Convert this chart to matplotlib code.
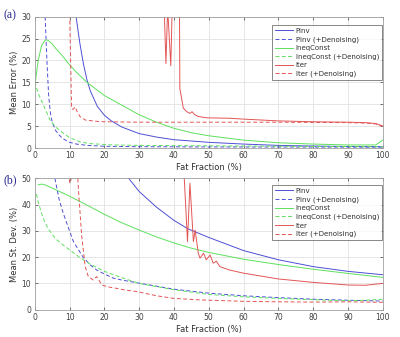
import numpy as np
import matplotlib
matplotlib.use('Agg')
import matplotlib.pyplot as plt

# 颜色
c_blue = '#4f4fd6'
c_green = '#5ee05e'
c_red = '#e35555'

# ---- (a) Mean Error ----
a_pinv_x = [11.9, 12.5, 13, 14, 15, 16, 18, 20, 22, 25, 30, 35, 40, 50, 60, 70, 80, 90, 100]
a_pinv_y = [30, 26.5, 23.8, 19.2, 15.6, 13, 9.5, 7.5, 6.2, 4.8, 3.3, 2.5, 1.9, 1.3, 0.9, 0.6, 0.45, 0.35, 0.3]

a_pinvd_x = [3.0, 3.5, 4, 4.5, 5, 6, 7, 8, 10, 12, 15, 20, 30, 50, 100]
a_pinvd_y = [30, 20, 12, 8, 6, 4, 3, 2.2, 1.3, 0.9, 0.6, 0.4, 0.3, 0.25, 0.2]

a_ineq_x = [0, 0.5, 1, 2, 3, 3.5, 4, 5, 6, 8, 10, 12, 15, 20, 25, 30, 35, 40, 45, 50, 60, 70, 80, 90, 98, 100]
a_ineq_y = [14, 17, 20, 23.5, 24.6, 24.7, 24.5, 23.8, 22.8, 21, 19, 17.3, 15, 12, 9.8, 7.6, 5.9, 4.5, 3.5, 2.8, 1.8, 1.2, 0.9, 0.7, 0.7, 1.8]

a_ineqd_x = [0, 1, 2.5, 4.4, 6, 8.2, 10, 13, 16, 22.5, 30, 50, 70, 100]
a_ineqd_y = [15.1, 12.5, 9.8, 6.4, 4.8, 3.4, 2.4, 1.4, 1.0, 0.7, 0.6, 0.5, 0.4, 0.3]

a_iter_x = [37.2, 37.7, 38.2, 39.1, 39.5, 41.6, 41.7, 42.7, 43.7, 44.6, 45.2, 46, 47, 49.4, 56, 60, 70, 80, 90, 95, 98, 100]
a_iter_y = [32, 19.3, 32, 18.8, 32, 32, 13.6, 9.1, 8.3, 7.9, 8.3, 7.6, 7.2, 6.9, 6.8, 6.6, 6.2, 6.0, 5.9, 5.8, 5.6, 5.0]

a_iterd_x = [10.0, 10.6, 11.0, 11.6, 12.2, 13, 14.5, 17.7, 20, 30, 50, 70, 90, 95, 98, 100]
a_iterd_y = [32, 9.1, 8.8, 9.4, 8.3, 7.2, 6.4, 6.1, 6.0, 5.9, 5.9, 5.9, 5.8, 5.7, 5.5, 5.0]

# ---- (b) Mean St. Dev. ----
b_pinv_x = [27, 30, 35, 40, 44, 50, 60, 70, 80, 90, 100]
b_pinv_y = [50, 45, 39, 34, 30.8, 27.5, 22.5, 19, 16.4, 14.6, 13.3]

b_pinvd_x = [5.8, 7, 8.2, 10, 11.1, 12, 14, 16, 17.8, 20, 22.6, 25, 30, 40, 50, 60, 70, 80, 90, 100]
b_pinvd_y = [50, 42, 36.7, 30, 26, 24, 19.8, 17, 15.1, 13.6, 12, 11.3, 10.1, 7.8, 6.3, 5.3, 4.6, 4.0, 3.6, 3.3]

b_ineq_x = [1, 2, 3, 5, 10, 15, 20, 25, 30, 35, 40, 45, 50, 60, 70, 80, 90, 100]
b_ineq_y = [47.5, 47.8, 47.5, 46.3, 43.2, 39.8, 36.3, 33.1, 30.3, 27.7, 25.4, 23.4, 21.8, 19.2, 17.2, 15.4, 13.8, 12.3]

b_ineqd_x = [0.5, 1, 2, 3, 4, 6, 8, 10, 13, 16, 20, 25, 30, 40, 50, 60, 70, 80, 90, 95, 100]
b_ineqd_y = [44, 41, 36.5, 33, 30.5, 27, 24.8, 22.8, 19.8, 17.3, 14.6, 12.2, 10.0, 7.6, 5.8, 4.9, 4.3, 3.8, 3.4, 3.6, 4.0]

b_iter_x = [42.9, 43.9, 44.6, 45.6, 46.1, 47.0, 47.5, 48.5, 49.3, 50.4, 51.3, 52.2, 53.2, 56, 60, 70, 80, 90, 95, 100]
b_iter_y = [52, 25.9, 48.1, 25.9, 30.3, 21.5, 19.6, 21.5, 19.0, 20.8, 17.7, 18.5, 16.4, 15.1, 13.9, 11.7, 10.4, 9.4, 9.3, 10.0]

b_iterd_x = [9.9, 10.0, 10.4, 10.5, 12.3, 12.6, 13.5, 14.5, 15.4, 16.8, 17.8, 19.3, 21, 23.6, 26, 29.3, 35, 40, 48, 60, 70, 80, 90, 100]
b_iterd_y = [52, 48.5, 48.5, 52, 52, 45, 28, 16.4, 12.6, 11.3, 12.6, 9.4, 8.7, 8.1, 7.5, 6.9, 5.3, 4.3, 3.7, 3.2, 3.0, 2.9, 3.0, 2.8]

labels = ['Pinv', 'Pinv (+Denoising)', 'IneqConst', 'IneqConst (+Denoising)', 'Iter', 'Iter (+Denoising)']

plt.rcParams['font.family'] = ['DejaVu Sans']

fig = plt.figure(figsize=(4.0, 3.37), dpi=100)
ax1 = fig.add_axes([0.0868, 0.5608, 0.8700, 0.3896])
ax2 = fig.add_axes([0.0868, 0.0810, 0.8700, 0.3899])


def draw(ax, data, ylim, yticks, ylabel, leg_top):
    dash = (0, (4, 2.5))
    styles = [(c_blue, '-'), (c_blue, dash), (c_green, '-'), (c_green, dash), (c_red, '-'), (c_red, dash)]
    for (x, y), (c, ls), lab in zip(data, styles, labels):
        ax.plot(x, y, color=c, linestyle=ls, linewidth=0.7, label=lab)
    ax.set_xlim(0, 100)
    ax.set_ylim(*ylim)
    ax.set_xticks(np.arange(0, 101, 10))
    ax.set_yticks(yticks)
    ax.grid(True, color='#e2e2e2', linewidth=0.6)
    ax.set_axisbelow(True)
    ax.tick_params(direction='in', top=True, right=True, labelsize=5.5,
                   colors='#404040', length=2.5, width=0.5, pad=2.5)
    for s in ax.spines.values():
        s.set_color('#a0a0a0')
        s.set_linewidth(0.6)
    ax.set_xlabel('Fat Fraction (%)', fontsize=6, color='#303030', labelpad=2)
    ax.set_ylabel(ylabel, fontsize=6, color='#303030', labelpad=2)
    leg = ax.legend(loc='upper right', bbox_to_anchor=(0.998, leg_top), fontsize=5,
                    frameon=True, fancybox=False, borderaxespad=0, handlelength=2.6,
                    handletextpad=0.4, labelspacing=0.35, borderpad=0.4)
    leg.get_frame().set_edgecolor('#303030')
    leg.get_frame().set_linewidth(0.5)
    for t in leg.get_texts():
        t.set_color('#303030')


draw(ax1, [(a_pinv_x, a_pinv_y), (a_pinvd_x, a_pinvd_y), (a_ineq_x, a_ineq_y),
           (a_ineqd_x, a_ineqd_y), (a_iter_x, a_iter_y), (a_iterd_x, a_iterd_y)],
     (0, 30), np.arange(0, 31, 5), 'Mean Error (%)', 0.937)
draw(ax2, [(b_pinv_x, b_pinv_y), (b_pinvd_x, b_pinvd_y), (b_ineq_x, b_ineq_y),
           (b_ineqd_x, b_ineqd_y), (b_iter_x, b_iter_y), (b_iterd_x, b_iterd_y)],
     (0, 50), np.arange(0, 51, 10), 'Mean St. Dev. (%)', 0.949)

fig.text(0.01, 1 - 15 / 337, '(a)', fontsize=8.5, color='#2a2a90', family='Liberation Serif', va='center')
fig.text(0.01, 1 - 180 / 337, '(b)', fontsize=8.5, color='#2a2a90', family='Liberation Serif', va='center')

fig.savefig('out.png', dpi=100)
